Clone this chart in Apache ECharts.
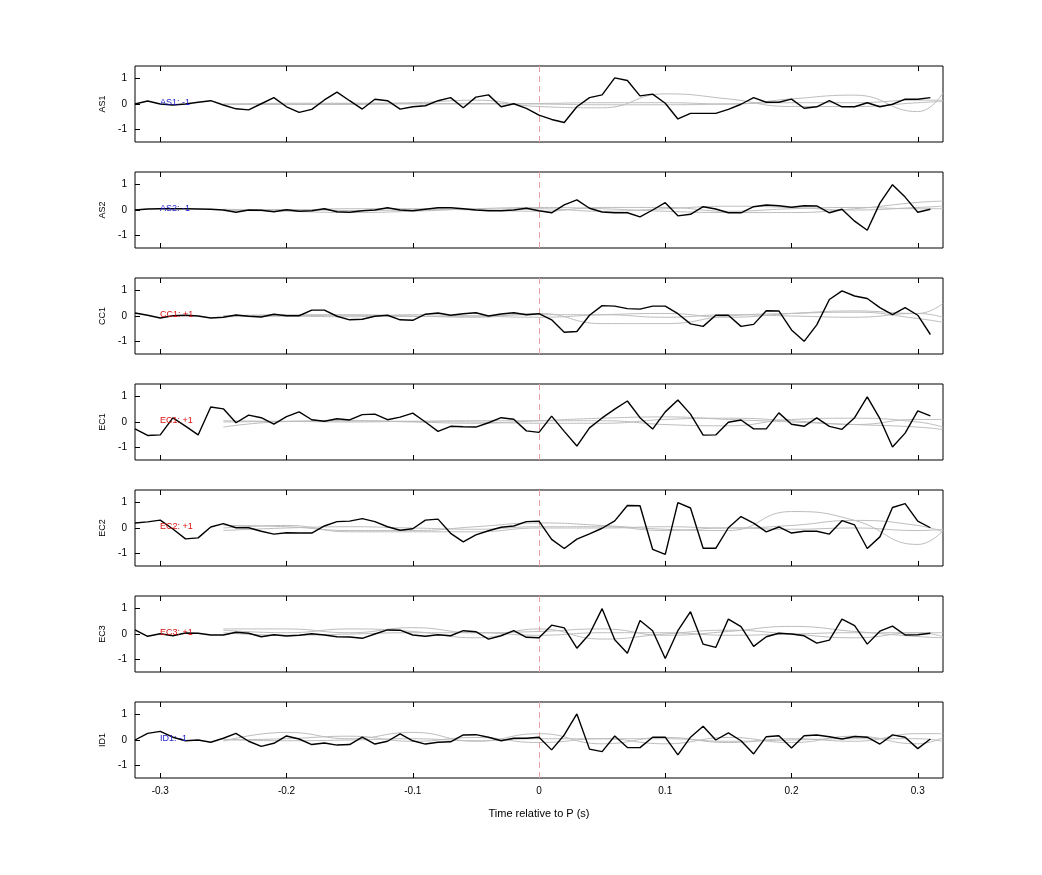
<!DOCTYPE html>
<html>
<head>
<meta charset="utf-8">
<script src="https://cdn.jsdelivr.net/npm/echarts@6/dist/echarts.min.js"></script>
<style>
  html, body { margin: 0; padding: 0; background: #fff; }
  #chart { width: 1042px; height: 875px; }
</style>
</head>
<body>
<div id="chart"></div>
<script>
// ===== 数据 =====
var stations = ['AS1', 'AS2', 'CC1', 'EC1', 'EC2', 'EC3', 'ID1'];
var stationTags = ['AS1: -1', 'AS2: -1', 'CC1: +1', 'EC1: +1', 'EC2: +1', 'EC3: +1', 'ID1: -1'];
var tagColors = ['#1a1acc', '#1a1acc', '#dd1111', '#dd1111', '#dd1111', '#dd1111', '#1a1acc'];

// time samples, -0.32 .. 0.31 s step 0.01
var times = [-0.32, -0.31, -0.30, -0.29, -0.28, -0.27, -0.26, -0.25, -0.24, -0.23,
             -0.22, -0.21, -0.20, -0.19, -0.18, -0.17, -0.16, -0.15, -0.14, -0.13,
             -0.12, -0.11, -0.10, -0.09, -0.08, -0.07, -0.06, -0.05, -0.04, -0.03,
             -0.02, -0.01, 0.00, 0.01, 0.02, 0.03, 0.04, 0.05, 0.06, 0.07,
             0.08, 0.09, 0.10, 0.11, 0.12, 0.13, 0.14, 0.15, 0.16, 0.17,
             0.18, 0.19, 0.20, 0.21, 0.22, 0.23, 0.24, 0.25, 0.26, 0.27,
             0.28, 0.29, 0.30, 0.31];

var as1 = [0, .12, 0, -.04, 0, .07, .13, -.04, -.19, -.23, .01, .25, -.11, -.33, -.21, .16, .47, .13, -.2, .19,
           .13, -.2, -.11, -.07, .13, .25, -.15, .27, .36, -.11, .01, -.17, -.44, -.61, -.73, -.11, .25, .36, 1.03, .93,
           .32, .39, .03, -.59, -.37, -.37, -.37, -.21, -.01, .25, .07, .07, .19, -.17, -.11, .13, -.11, -.11, .05, -.11,
           -.01, .19, .19, .25];
var as2 = [0, .04, .05, .05, .05, .04, .03, 0, -.09, 0, -.01, -.07, .01, -.05, -.03, .05, -.07, -.09, -.03, 0,
           .09, 0, -.03, .03, .09, .09, .05, 0, -.03, -.03, 0, .07, -.03, -.11, .2, .4, .07, -.08, -.11, -.11,
           -.27, 0, .29, -.23, -.17, .13, .04, -.11, -.11, .13, .2, .17, .11, .17, .16, -.11, .03, -.44, -.8, .27,
           1.0, .51, -.09, .03];
var cc1 = [.12, .03, -.08, .01, .03, 0, -.08, -.05, .04, -.01, -.04, .07, .01, .01, .23, .23, -.01, -.15, -.13, -.01,
           .03, -.15, -.17, .07, .12, .03, .09, .13, 0, .08, .13, .05, .09, -.15, -.64, -.61, .03, .41, .39, .29,
           .27, .39, .39, .09, -.31, -.41, .03, .03, -.41, -.33, .21, .2, -.55, -1.0, -.35, .65, .99, .79, .69, .33,
           .05, .33, .03, -.73];
var ec1 = [-.27, -.53, -.51, .16, -.16, -.51, .59, .52, -.03, .27, .17, -.08, .21, .4, .09, .03, .13, .08, .29, .31,
           .09, .19, .35, 0, -.37, -.17, -.19, -.2, -.03, .17, .11, -.35, -.41, .23, -.37, -.95, -.23, .16, .51, .83,
           .17, -.28, .4, .87, .31, -.52, -.51, -.01, .08, -.27, -.27, .36, -.09, -.17, .16, -.17, -.29, .17, .99, .13,
           -.99, -.44, .44, .24];
var ec2 = [.2, .24, .31, -.04, -.43, -.39, .04, .17, .01, .01, -.13, -.24, -.19, -.2, -.2, .08, .25, .27, .37, .25,
           .05, -.09, -.03, .31, .35, -.21, -.55, -.27, -.11, .03, .08, .25, .27, -.45, -.81, -.44, -.23, -.01, .28, .89,
           .88, -.84, -1.04, 1.0, .79, -.8, -.8, .01, .45, .19, -.15, .04, -.2, -.13, -.13, -.24, .29, .12, -.81, -.35,
           .81, .96, .27, .01];
var ec3 = [.16, -.09, .01, -.07, .04, .03, -.04, -.04, .07, .03, -.11, -.03, -.08, -.05, .01, -.04, -.11, -.12, -.17, 0,
           .16, .15, -.04, -.09, -.03, -.07, .13, .09, -.2, -.07, .13, -.13, -.15, .35, .24, -.56, 0, 1.0, -.23, -.76,
           .53, .13, -.97, .13, .88, -.4, -.53, .59, .29, -.49, -.11, .03, 0, -.07, -.36, -.24, .59, .33, -.4, .11,
           .31, -.04, -.03, .03];
var id1 = [0, .26, .34, .11, -.03, 0, -.09, .07, .26, -.05, -.25, -.13, .16, .04, -.18, -.12, -.2, -.18, .11, -.16,
           -.05, .24, -.03, -.16, -.09, -.07, .2, .21, .11, -.03, .07, .07, .11, -.39, .2, 1.03, -.36, -.46, .16, -.3,
           -.3, .11, .11, -.59, .11, .54, 0, .28, -.03, -.55, .13, .17, -.32, .17, .2, .13, .04, .14, .11, -.16,
           .2, .11, -.34, .04];
var blackSeries = [as1, as2, cc1, ec1, ec2, ec3, id1];

// gray (smooth) traces, sampled sparsely
var grayT = [-0.25, -0.2, -0.15, -0.1, -0.05, 0, 0.05, 0.1, 0.15, 0.2, 0.25, 0.3, 0.32];
var grayAS1 = [
    [0, 0, .02, .05, .15, -.1, -.15, .4, .2, -.1, -.1, .05, .1],
    [0, -.02, -.02, 0, 0, .02, .05, .05, 0, .2, .35, -.3, .45],
    [-.03, .03, .03, .02, .02, 0, -.03, -.03, 0, .05, .05, .15, .15]
];
var grayAS2 = [
    [0, -.05, -.1, -.05, .05, .1, .05, -.05, -.1, -.1, .05, .3, .35],
    [.03, 0, .05, .05, 0, -.05, .1, .1, -.05, .05, .1, .05, .05],
    [-.03, .02, -.02, 0, .03, .05, -.05, .05, .15, .1, 0, .1, .15]
];
var grayCC1 = [
    [0, .05, .05, 0, -.05, .1, -.3, -.3, 0, .1, .15, -.1, -.25],
    [.02, 0, -.03, .05, 0, -.05, .05, .1, -.05, .1, .2, .1, .5],
    [-.03, 0, .03, -.02, 0, .05, .05, -.05, .05, 0, -.05, .1, -.05]
];
var grayEC1 = [
    [-.2, .02, .05, 0, -.05, .05, .15, .2, .1, 0, -.1, -.2, -.3],
    [0, .02, 0, .03, .05, .05, .05, -.1, -.15, .1, .15, 0, -.2],
    [.05, .03, .05, .02, 0, -.05, -.05, .1, .15, .05, -.1, .1, .1]
];
var grayEC2 = [
    [.1, .05, -.1, -.1, .05, .2, .1, -.05, -.1, .65, .3, -.65, -.1],
    [0, .1, -.15, -.15, -.15, 0, 0, .05, 0, .1, .3, .1, -.15],
    [-.1, 0, .05, 0, -.05, .05, .05, -.1, 0, -.05, 0, -.1, -.05]
];
var grayEC3 = [
    [.2, .2, .05, .25, .05, .1, .2, -.05, .1, .3, .1, -.1, -.15],
    [.15, .05, .2, .1, -.15, .2, -.2, 0, .15, 0, -.15, .05, -.1],
    [.05, -.05, 0, .05, .05, -.05, .05, .05, -.05, 0, .05, .05, .05]
];
var grayID1 = [
    [-.05, .3, .05, .3, -.05, .25, -.15, .1, -.1, .05, -.05, .25, .25],
    [0, .05, .15, -.05, .1, -.1, .05, -.15, .1, -.1, .15, -.15, .1],
    [.03, -.03, 0, .05, -.03, .05, .05, .05, -.05, 0, .05, .05, -.05]
];
var grayGroups = [grayAS1, grayAS2, grayCC1, grayEC1, grayEC2, grayEC3, grayID1];

var xTicks = [-0.3, -0.2, -0.1, 0, 0.1, 0.2, 0.3];
var yTicks = [-1, 0, 1];

// ===== 布局 =====
var chart = echarts.init(document.getElementById('chart'));
var grids = [], xAxes = [], yAxes = [], series = [], graphics = [];
var top0 = 66, step = 106, h = 76, left = 135, width = 808;

stations.forEach(function (name, i) {
    var last = i === stations.length - 1;
    grids.push({ left: left, top: top0 + i * step, width: width, height: h,
                 show: true, borderColor: '#000', borderWidth: 1, backgroundColor: '#fff' });
    // bottom axis
    xAxes.push({
        type: 'value', gridIndex: i, min: -0.32, max: 0.32, position: 'bottom',
        axisLine: { show: false, onZero: false },
        axisTick: { inside: true, length: 5, lineStyle: { color: '#000' }, customValues: xTicks },
        axisLabel: { show: last, color: '#000', fontSize: 10, customValues: xTicks,
                     formatter: function (v) { return v === 0 ? '0' : String(Math.round(v * 10) / 10); } },
        splitLine: { show: false },
        name: last ? 'Time relative to P (s)' : '', nameLocation: 'middle', nameGap: 30,
        nameTextStyle: { color: '#000', fontSize: 11 }
    });
    // top axis (ticks only)
    xAxes.push({
        type: 'value', gridIndex: i, min: -0.32, max: 0.32, position: 'top',
        axisLine: { show: false, onZero: false },
        axisTick: { inside: true, length: 5, lineStyle: { color: '#000' }, customValues: xTicks },
        axisLabel: { show: false }, splitLine: { show: false }
    });
    yAxes.push({
        type: 'value', gridIndex: i, min: -1.5, max: 1.5, position: 'left',
        axisLine: { show: false, onZero: false },
        axisTick: { inside: true, length: 5, lineStyle: { color: '#000' }, customValues: yTicks },
        axisLabel: { color: '#000', fontSize: 10, customValues: yTicks },
        splitLine: { show: false },
        name: name, nameLocation: 'middle', nameGap: 27, nameRotate: 90,
        nameTextStyle: { color: '#000', fontSize: 9 }
    });

    grayGroups[i].forEach(function (vals) {
        series.push({
            type: 'line', xAxisIndex: i * 2, yAxisIndex: i, smooth: 0.5, symbol: 'none', silent: true,
            data: vals.map(function (v, k) { return [grayT[k], v]; }),
            lineStyle: { color: '#bdbdbd', width: 1 }, z: 2
        });
    });

    series.push({
        type: 'line', xAxisIndex: i * 2, yAxisIndex: i, symbol: 'none',
        data: blackSeries[i].map(function (v, k) { return [times[k], v]; }),
        lineStyle: { color: '#000', width: 1.4 }, z: 5,
        markLine: {
            silent: true, symbol: 'none', label: { show: false },
            lineStyle: { color: '#e8a0a0', type: [6, 4], width: 1 },
            data: [{ xAxis: 0 }]
        }
    });

    graphics.push({
        type: 'text', left: 160, top: top0 + i * step + h / 2 - 6, z: 10,
        style: { text: stationTags[i], fill: tagColors[i], fontSize: 9, fontFamily: 'sans-serif' }
    });
});

chart.setOption({
    animation: false,
    backgroundColor: '#fff',
    grid: grids,
    xAxis: xAxes,
    yAxis: yAxes,
    series: series,
    graphic: graphics
});
</script>
</body>
</html>
